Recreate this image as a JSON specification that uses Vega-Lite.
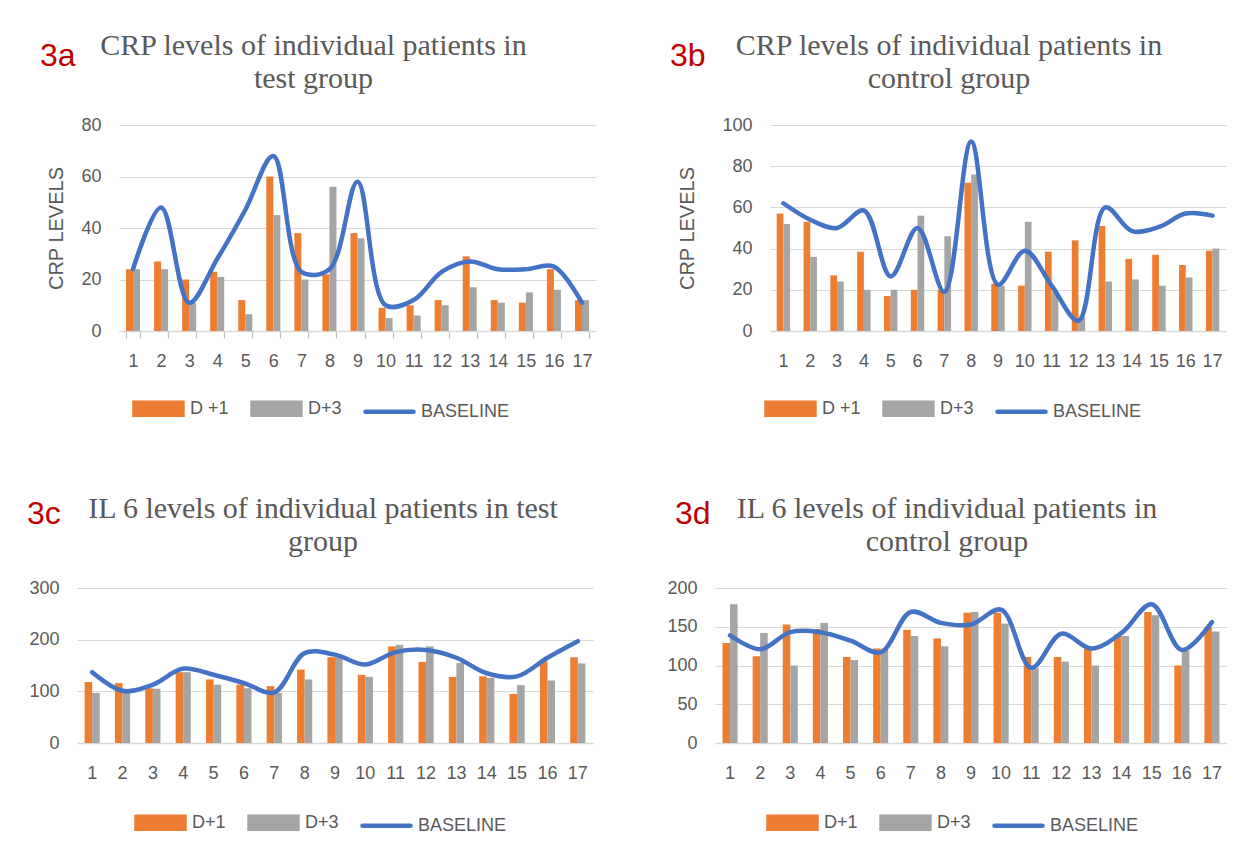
{
  "$schema": "https://vega.github.io/schema/vega-lite/v6.json",
  "background": "white",
  "padding": {"left": 26, "top": 31, "right": 0, "bottom": 0},
  "datasets": {
    "crp_test": [
      {"patient":1,"series":"D +1","value":24},{"patient":2,"series":"D +1","value":27},{"patient":3,"series":"D +1","value":20},{"patient":4,"series":"D +1","value":23},{"patient":5,"series":"D +1","value":12},{"patient":6,"series":"D +1","value":60},{"patient":7,"series":"D +1","value":38},{"patient":8,"series":"D +1","value":22},{"patient":9,"series":"D +1","value":38},{"patient":10,"series":"D +1","value":9},{"patient":11,"series":"D +1","value":10},{"patient":12,"series":"D +1","value":12},{"patient":13,"series":"D +1","value":29},{"patient":14,"series":"D +1","value":12},{"patient":15,"series":"D +1","value":11},{"patient":16,"series":"D +1","value":24},{"patient":17,"series":"D +1","value":12},
      {"patient":1,"series":"D+3","value":24},{"patient":2,"series":"D+3","value":24},{"patient":3,"series":"D+3","value":11},{"patient":4,"series":"D+3","value":21},{"patient":5,"series":"D+3","value":6.5},{"patient":6,"series":"D+3","value":45},{"patient":7,"series":"D+3","value":20},{"patient":8,"series":"D+3","value":56},{"patient":9,"series":"D+3","value":36},{"patient":10,"series":"D+3","value":5},{"patient":11,"series":"D+3","value":6},{"patient":12,"series":"D+3","value":10},{"patient":13,"series":"D+3","value":17},{"patient":14,"series":"D+3","value":11},{"patient":15,"series":"D+3","value":15},{"patient":16,"series":"D+3","value":16},{"patient":17,"series":"D+3","value":12},
      {"patient":1,"series":"BASELINE","value":24},{"patient":2,"series":"BASELINE","value":48},{"patient":3,"series":"BASELINE","value":11},{"patient":4,"series":"BASELINE","value":28},{"patient":5,"series":"BASELINE","value":47},{"patient":6,"series":"BASELINE","value":68},{"patient":7,"series":"BASELINE","value":23},{"patient":8,"series":"BASELINE","value":24},{"patient":9,"series":"BASELINE","value":58},{"patient":10,"series":"BASELINE","value":10},{"patient":11,"series":"BASELINE","value":12},{"patient":12,"series":"BASELINE","value":23},{"patient":13,"series":"BASELINE","value":27},{"patient":14,"series":"BASELINE","value":24},{"patient":15,"series":"BASELINE","value":24},{"patient":16,"series":"BASELINE","value":25},{"patient":17,"series":"BASELINE","value":11}
    ],
    "crp_control": [
      {"patient":1,"series":"D +1","value":57},{"patient":2,"series":"D +1","value":53},{"patient":3,"series":"D +1","value":27},{"patient":4,"series":"D +1","value":38.5},{"patient":5,"series":"D +1","value":17},{"patient":6,"series":"D +1","value":20},{"patient":7,"series":"D +1","value":20},{"patient":8,"series":"D +1","value":72},{"patient":9,"series":"D +1","value":23},{"patient":10,"series":"D +1","value":22},{"patient":11,"series":"D +1","value":38.5},{"patient":12,"series":"D +1","value":44},{"patient":13,"series":"D +1","value":51},{"patient":14,"series":"D +1","value":35},{"patient":15,"series":"D +1","value":37},{"patient":16,"series":"D +1","value":32},{"patient":17,"series":"D +1","value":39},
      {"patient":1,"series":"D+3","value":52},{"patient":2,"series":"D+3","value":36},{"patient":3,"series":"D+3","value":24},{"patient":4,"series":"D+3","value":20},{"patient":5,"series":"D+3","value":20},{"patient":6,"series":"D+3","value":56},{"patient":7,"series":"D+3","value":46},{"patient":8,"series":"D+3","value":76},{"patient":9,"series":"D+3","value":22},{"patient":10,"series":"D+3","value":53},{"patient":11,"series":"D+3","value":19},{"patient":12,"series":"D+3","value":7},{"patient":13,"series":"D+3","value":24},{"patient":14,"series":"D+3","value":25},{"patient":15,"series":"D+3","value":22},{"patient":16,"series":"D+3","value":26},{"patient":17,"series":"D+3","value":40},
      {"patient":1,"series":"BASELINE","value":62},{"patient":2,"series":"BASELINE","value":54},{"patient":3,"series":"BASELINE","value":50},{"patient":4,"series":"BASELINE","value":58.5},{"patient":5,"series":"BASELINE","value":26.5},{"patient":6,"series":"BASELINE","value":50},{"patient":7,"series":"BASELINE","value":19},{"patient":8,"series":"BASELINE","value":92},{"patient":9,"series":"BASELINE","value":22.5},{"patient":10,"series":"BASELINE","value":39},{"patient":11,"series":"BASELINE","value":22},{"patient":12,"series":"BASELINE","value":5},{"patient":13,"series":"BASELINE","value":60},{"patient":14,"series":"BASELINE","value":48.5},{"patient":15,"series":"BASELINE","value":50.5},{"patient":16,"series":"BASELINE","value":57},{"patient":17,"series":"BASELINE","value":56}
    ],
    "il6_test": [
      {"patient":1,"series":"D+1","value":118},{"patient":2,"series":"D+1","value":116},{"patient":3,"series":"D+1","value":106},{"patient":4,"series":"D+1","value":137},{"patient":5,"series":"D+1","value":123},{"patient":6,"series":"D+1","value":113},{"patient":7,"series":"D+1","value":110},{"patient":8,"series":"D+1","value":142},{"patient":9,"series":"D+1","value":166},{"patient":10,"series":"D+1","value":132},{"patient":11,"series":"D+1","value":187},{"patient":12,"series":"D+1","value":157},{"patient":13,"series":"D+1","value":128},{"patient":14,"series":"D+1","value":129},{"patient":15,"series":"D+1","value":95},{"patient":16,"series":"D+1","value":158},{"patient":17,"series":"D+1","value":166},
      {"patient":1,"series":"D+3","value":97},{"patient":2,"series":"D+3","value":97},{"patient":3,"series":"D+3","value":105},{"patient":4,"series":"D+3","value":137},{"patient":5,"series":"D+3","value":113},{"patient":6,"series":"D+3","value":106},{"patient":7,"series":"D+3","value":97},{"patient":8,"series":"D+3","value":123},{"patient":9,"series":"D+3","value":171},{"patient":10,"series":"D+3","value":128},{"patient":11,"series":"D+3","value":190},{"patient":12,"series":"D+3","value":187},{"patient":13,"series":"D+3","value":155},{"patient":14,"series":"D+3","value":126},{"patient":15,"series":"D+3","value":112},{"patient":16,"series":"D+3","value":121},{"patient":17,"series":"D+3","value":154},
      {"patient":1,"series":"BASELINE","value":137},{"patient":2,"series":"BASELINE","value":101},{"patient":3,"series":"BASELINE","value":113},{"patient":4,"series":"BASELINE","value":144},{"patient":5,"series":"BASELINE","value":132},{"patient":6,"series":"BASELINE","value":116},{"patient":7,"series":"BASELINE","value":98},{"patient":8,"series":"BASELINE","value":174},{"patient":9,"series":"BASELINE","value":171},{"patient":10,"series":"BASELINE","value":152},{"patient":11,"series":"BASELINE","value":176},{"patient":12,"series":"BASELINE","value":180},{"patient":13,"series":"BASELINE","value":165},{"patient":14,"series":"BASELINE","value":135},{"patient":15,"series":"BASELINE","value":129},{"patient":16,"series":"BASELINE","value":165},{"patient":17,"series":"BASELINE","value":197}
    ],
    "il6_control": [
      {"patient":1,"series":"D+1","value":129},{"patient":2,"series":"D+1","value":112},{"patient":3,"series":"D+1","value":153},{"patient":4,"series":"D+1","value":147},{"patient":5,"series":"D+1","value":111},{"patient":6,"series":"D+1","value":122},{"patient":7,"series":"D+1","value":146},{"patient":8,"series":"D+1","value":135},{"patient":9,"series":"D+1","value":168},{"patient":10,"series":"D+1","value":168},{"patient":11,"series":"D+1","value":111},{"patient":12,"series":"D+1","value":111},{"patient":13,"series":"D+1","value":122},{"patient":14,"series":"D+1","value":140},{"patient":15,"series":"D+1","value":169},{"patient":16,"series":"D+1","value":100},{"patient":17,"series":"D+1","value":150},
      {"patient":1,"series":"D+3","value":179},{"patient":2,"series":"D+3","value":142},{"patient":3,"series":"D+3","value":100},{"patient":4,"series":"D+3","value":155},{"patient":5,"series":"D+3","value":107},{"patient":6,"series":"D+3","value":121},{"patient":7,"series":"D+3","value":138},{"patient":8,"series":"D+3","value":125},{"patient":9,"series":"D+3","value":169},{"patient":10,"series":"D+3","value":154},{"patient":11,"series":"D+3","value":97},{"patient":12,"series":"D+3","value":105},{"patient":13,"series":"D+3","value":100},{"patient":14,"series":"D+3","value":138},{"patient":15,"series":"D+3","value":165},{"patient":16,"series":"D+3","value":119},{"patient":17,"series":"D+3","value":144},
      {"patient":1,"series":"BASELINE","value":139},{"patient":2,"series":"BASELINE","value":121},{"patient":3,"series":"BASELINE","value":143},{"patient":4,"series":"BASELINE","value":143},{"patient":5,"series":"BASELINE","value":132},{"patient":6,"series":"BASELINE","value":117},{"patient":7,"series":"BASELINE","value":169},{"patient":8,"series":"BASELINE","value":155},{"patient":9,"series":"BASELINE","value":153},{"patient":10,"series":"BASELINE","value":172},{"patient":11,"series":"BASELINE","value":97},{"patient":12,"series":"BASELINE","value":141},{"patient":13,"series":"BASELINE","value":122},{"patient":14,"series":"BASELINE","value":142},{"patient":15,"series":"BASELINE","value":179},{"patient":16,"series":"BASELINE","value":120},{"patient":17,"series":"BASELINE","value":156}
    ]
  },
  "concat": [
    {
      "hconcat": [
        {
          "title": {"text": "3a", "orient": "top", "anchor": "start", "frame": "bounds", "font": "Liberation Sans", "fontSize": 32, "fontWeight": "normal", "color": "#C00000", "offset": 0, "dx": -7, "dy": 42},
          "vconcat": [
            {
              "width": 477, "height": 206,
              "data": {"name": "crp_test"},
              "title": {"text": ["CRP levels of individual patients in", "test group"], "dx": -44},
              "encoding": {
                "x": {"field": "patient", "type": "ordinal", "title": null, "scale": {"paddingInner": 0.5, "paddingOuter": 0.25}, "axis": {"ticks": true, "tickBand": "extent", "tickSize": 7, "tickColor": "#BFBFBF", "tickWidth": 1.2, "labelPadding": 14}},
                "y": {"field": "value", "type": "quantitative", "scale": {"domain": [0, 80], "nice": false}, "axis": {"values": [0, 20, 40, 60, 80], "title": "CRP LEVELS", "titlePadding": 14}}
              },
              "layer": [
                {"transform": [{"filter": "datum.series !== 'BASELINE'"}], "mark": "bar",
                 "encoding": {"xOffset": {"field": "series", "type": "nominal", "scale": {"domain": ["D +1", "D+3"]}},
                   "color": {"field": "series", "type": "nominal", "scale": {"domain": ["D +1", "D+3", "BASELINE"], "range": ["#ED7D31", "#A5A5A5", "#4472C4"]},
                     "legend": {"orient": "none", "legendX": 13, "legendY": 257, "direction": "horizontal", "title": null,
                       "encode": {"symbols": {"update": {"shape": {"signal": "datum.value === 'BASELINE' ? 'M-1,0H1' : 'M-1,-0.25H1V0.25H-1Z'"}, "fill": {"signal": "datum.value === 'BASELINE' ? 'transparent' : (datum.value === 'D+3' ? '#A5A5A5' : '#ED7D31')"}, "stroke": {"signal": "datum.value === 'BASELINE' ? '#4472C4' : 'transparent'"}, "strokeWidth": {"value": 4.5}, "strokeCap": {"value": "round"}, "opacity": {"value": 1}}}}}}}},
                {"transform": [{"filter": "datum.series === 'BASELINE'"}], "mark": {"type": "line", "interpolate": "catmull-rom", "strokeWidth": 4.5, "strokeCap": "round"},
                 "encoding": {
                   "color": {"field": "series", "type": "nominal", "scale": {"domain": ["D +1", "D+3", "BASELINE"], "range": ["#ED7D31", "#A5A5A5", "#4472C4"]},
                     "legend": {"orient": "none", "legendX": 13, "legendY": 257, "direction": "horizontal", "title": null,
                       "encode": {"symbols": {"update": {"shape": {"signal": "datum.value === 'BASELINE' ? 'M-1,0H1' : 'M-1,-0.25H1V0.25H-1Z'"}, "fill": {"signal": "datum.value === 'BASELINE' ? 'transparent' : (datum.value === 'D+3' ? '#A5A5A5' : '#ED7D31')"}, "stroke": {"signal": "datum.value === 'BASELINE' ? '#4472C4' : 'transparent'"}, "strokeWidth": {"value": 4.5}, "strokeCap": {"value": "round"}, "opacity": {"value": 1}}}}}}}}
              ]
            }
          ],
          "resolve": {"scale": {"color": "independent", "xOffset": "independent"}, "legend": {"color": "independent"}}
        },
        {
          "title": {"text": "3b", "orient": "top", "anchor": "start", "frame": "bounds", "font": "Liberation Sans", "fontSize": 32, "fontWeight": "normal", "color": "#C00000", "offset": 0, "dx": -8, "dy": 42},
          "vconcat": [
            {
              "width": 456, "height": 206,
              "data": {"name": "crp_control"},
              "title": {"text": ["CRP levels of individual patients in", "control group"], "dx": -49},
              "encoding": {
                "x": {"field": "patient", "type": "ordinal", "title": null, "scale": {"paddingInner": 0.5, "paddingOuter": 0.25}},
                "y": {"field": "value", "type": "quantitative", "scale": {"domain": [0, 100], "nice": false}, "axis": {"values": [0, 20, 40, 60, 80, 100], "title": "CRP LEVELS", "titlePadding": 24}}
              },
              "layer": [
                {"transform": [{"filter": "datum.series !== 'BASELINE'"}], "mark": "bar",
                 "encoding": {"xOffset": {"field": "series", "type": "nominal", "scale": {"domain": ["D +1", "D+3"]}},
                   "color": {"field": "series", "type": "nominal", "scale": {"domain": ["D +1", "D+3", "BASELINE"], "range": ["#ED7D31", "#A5A5A5", "#4472C4"]},
                     "legend": {"orient": "none", "legendX": -6, "legendY": 257, "direction": "horizontal", "title": null,
                       "encode": {"symbols": {"update": {"shape": {"signal": "datum.value === 'BASELINE' ? 'M-1,0H1' : 'M-1,-0.25H1V0.25H-1Z'"}, "fill": {"signal": "datum.value === 'BASELINE' ? 'transparent' : (datum.value === 'D+3' ? '#A5A5A5' : '#ED7D31')"}, "stroke": {"signal": "datum.value === 'BASELINE' ? '#4472C4' : 'transparent'"}, "strokeWidth": {"value": 4.5}, "strokeCap": {"value": "round"}, "opacity": {"value": 1}}}}}}}},
                {"transform": [{"filter": "datum.series === 'BASELINE'"}], "mark": {"type": "line", "interpolate": "catmull-rom", "strokeWidth": 4.5, "strokeCap": "round"},
                 "encoding": {
                   "color": {"field": "series", "type": "nominal", "scale": {"domain": ["D +1", "D+3", "BASELINE"], "range": ["#ED7D31", "#A5A5A5", "#4472C4"]},
                     "legend": {"orient": "none", "legendX": -6, "legendY": 257, "direction": "horizontal", "title": null,
                       "encode": {"symbols": {"update": {"shape": {"signal": "datum.value === 'BASELINE' ? 'M-1,0H1' : 'M-1,-0.25H1V0.25H-1Z'"}, "fill": {"signal": "datum.value === 'BASELINE' ? 'transparent' : (datum.value === 'D+3' ? '#A5A5A5' : '#ED7D31')"}, "stroke": {"signal": "datum.value === 'BASELINE' ? '#4472C4' : 'transparent'"}, "strokeWidth": {"value": 4.5}, "strokeCap": {"value": "round"}, "opacity": {"value": 1}}}}}}}}
              ]
            }
          ],
          "resolve": {"scale": {"color": "independent", "xOffset": "independent"}, "legend": {"color": "independent"}}
        }
      ],
      "spacing": 73,
      "resolve": {"scale": {"color": "independent", "xOffset": "independent"}, "legend": {"color": "independent"}}
    },
    {
      "hconcat": [
        {
          "title": {"text": "3c", "orient": "top", "anchor": "start", "frame": "bounds", "font": "Liberation Sans", "fontSize": 32, "fontWeight": "normal", "color": "#C00000", "offset": 0, "dx": -2, "dy": 37},
          "vconcat": [
            {
              "width": 474, "height": 155,
              "data": {"name": "il6_test"},
              "title": {"text": ["IL 6 levels of individual patients in test", "group"], "dx": -33},
              "encoding": {
                "x": {"field": "patient", "type": "ordinal", "title": null, "scale": {"paddingInner": 0.5, "paddingOuter": 0.25, "range": [-42, 474]}},
                "y": {"field": "value", "type": "quantitative", "scale": {"domain": [0, 300], "nice": false}, "axis": {"values": [0, 100, 200, 300], "title": null, "offset": 42}}
              },
              "layer": [
                {"transform": [{"filter": "datum.series !== 'BASELINE'"}], "mark": "bar",
                 "encoding": {"xOffset": {"field": "series", "type": "nominal", "scale": {"domain": ["D+1", "D+3"]}},
                   "color": {"field": "series", "type": "nominal", "scale": {"domain": ["D+1", "D+3", "BASELINE"], "range": ["#ED7D31", "#A5A5A5", "#4472C4"]},
                     "legend": {"orient": "none", "legendX": 15, "legendY": 208, "direction": "horizontal", "title": null,
                       "encode": {"symbols": {"update": {"shape": {"signal": "datum.value === 'BASELINE' ? 'M-1,0H1' : 'M-1,-0.25H1V0.25H-1Z'"}, "fill": {"signal": "datum.value === 'BASELINE' ? 'transparent' : (datum.value === 'D+3' ? '#A5A5A5' : '#ED7D31')"}, "stroke": {"signal": "datum.value === 'BASELINE' ? '#4472C4' : 'transparent'"}, "strokeWidth": {"value": 4.5}, "strokeCap": {"value": "round"}, "opacity": {"value": 1}}}}}}}},
                {"transform": [{"filter": "datum.series === 'BASELINE'"}], "mark": {"type": "line", "interpolate": "catmull-rom", "strokeWidth": 4.5, "strokeCap": "round"},
                 "encoding": {
                   "color": {"field": "series", "type": "nominal", "scale": {"domain": ["D+1", "D+3", "BASELINE"], "range": ["#ED7D31", "#A5A5A5", "#4472C4"]},
                     "legend": {"orient": "none", "legendX": 15, "legendY": 208, "direction": "horizontal", "title": null,
                       "encode": {"symbols": {"update": {"shape": {"signal": "datum.value === 'BASELINE' ? 'M-1,0H1' : 'M-1,-0.25H1V0.25H-1Z'"}, "fill": {"signal": "datum.value === 'BASELINE' ? 'transparent' : (datum.value === 'D+3' ? '#A5A5A5' : '#ED7D31')"}, "stroke": {"signal": "datum.value === 'BASELINE' ? '#4472C4' : 'transparent'"}, "strokeWidth": {"value": 4.5}, "strokeCap": {"value": "round"}, "opacity": {"value": 1}}}}}}}}
              ]
            }
          ],
          "resolve": {"scale": {"color": "independent", "xOffset": "independent"}, "legend": {"color": "independent"}}
        },
        {
          "title": {"text": "3d", "orient": "top", "anchor": "start", "frame": "bounds", "font": "Liberation Sans", "fontSize": 32, "fontWeight": "normal", "color": "#C00000", "offset": 0, "dx": 8, "dy": 37},
          "vconcat": [
            {
              "width": 512, "height": 155,
              "data": {"name": "il6_control"},
              "title": {"text": ["IL 6 levels of individual patients in", "control group"], "dx": -24},
              "encoding": {
                "x": {"field": "patient", "type": "ordinal", "title": null, "scale": {"paddingInner": 0.5, "paddingOuter": 0.25}},
                "y": {"field": "value", "type": "quantitative", "scale": {"domain": [0, 200], "nice": false}, "axis": {"values": [0, 50, 100, 150, 200], "title": null}}
              },
              "layer": [
                {"transform": [{"filter": "datum.series !== 'BASELINE'"}], "mark": "bar",
                 "encoding": {"xOffset": {"field": "series", "type": "nominal", "scale": {"domain": ["D+1", "D+3"]}},
                   "color": {"field": "series", "type": "nominal", "scale": {"domain": ["D+1", "D+3", "BASELINE"], "range": ["#ED7D31", "#A5A5A5", "#4472C4"]},
                     "legend": {"orient": "none", "legendX": 51, "legendY": 208, "direction": "horizontal", "title": null,
                       "encode": {"symbols": {"update": {"shape": {"signal": "datum.value === 'BASELINE' ? 'M-1,0H1' : 'M-1,-0.25H1V0.25H-1Z'"}, "fill": {"signal": "datum.value === 'BASELINE' ? 'transparent' : (datum.value === 'D+3' ? '#A5A5A5' : '#ED7D31')"}, "stroke": {"signal": "datum.value === 'BASELINE' ? '#4472C4' : 'transparent'"}, "strokeWidth": {"value": 4.5}, "strokeCap": {"value": "round"}, "opacity": {"value": 1}}}}}}}},
                {"transform": [{"filter": "datum.series === 'BASELINE'"}], "mark": {"type": "line", "interpolate": "catmull-rom", "strokeWidth": 4.5, "strokeCap": "round"},
                 "encoding": {
                   "color": {"field": "series", "type": "nominal", "scale": {"domain": ["D+1", "D+3", "BASELINE"], "range": ["#ED7D31", "#A5A5A5", "#4472C4"]},
                     "legend": {"orient": "none", "legendX": 51, "legendY": 208, "direction": "horizontal", "title": null,
                       "encode": {"symbols": {"update": {"shape": {"signal": "datum.value === 'BASELINE' ? 'M-1,0H1' : 'M-1,-0.25H1V0.25H-1Z'"}, "fill": {"signal": "datum.value === 'BASELINE' ? 'transparent' : (datum.value === 'D+3' ? '#A5A5A5' : '#ED7D31')"}, "stroke": {"signal": "datum.value === 'BASELINE' ? '#4472C4' : 'transparent'"}, "strokeWidth": {"value": 4.5}, "strokeCap": {"value": "round"}, "opacity": {"value": 1}}}}}}}}
              ]
            }
          ],
          "resolve": {"scale": {"color": "independent", "xOffset": "independent"}, "legend": {"color": "independent"}}
        }
      ],
      "spacing": 31,
      "resolve": {"scale": {"color": "independent", "xOffset": "independent"}, "legend": {"color": "independent"}}
    }
  ],
  "columns": 1,
  "spacing": 70,
  "resolve": {"scale": {"color": "independent", "xOffset": "independent"}, "legend": {"color": "independent"}},
  "config": {
    "view": {"stroke": null},
    "font": "Liberation Sans",
    "axis": {"labelFont": "Liberation Sans", "labelColor": "#595959", "titleFont": "Liberation Sans", "titleColor": "#595959", "titleFontWeight": "normal"},
    "axisY": {"grid": true, "gridColor": "#D9D9D9", "gridWidth": 1.2, "domain": false, "ticks": false, "labelFontSize": 18, "labelPadding": 18, "titleFontSize": 20, "titlePadding": 18},
    "axisX": {"labelAngle": 0, "labelFontSize": 18, "domainColor": "#D9D9D9", "domainWidth": 1.5, "ticks": false, "grid": false, "labelPadding": 21},
    "title": {"font": "Liberation Serif", "fontSize": 30, "fontWeight": "normal", "color": "#595959", "lineHeight": 33, "frame": "group", "anchor": "middle", "offset": 22},
    "legend": {"symbolType": "M-1,-0.25H1V0.25H-1Z", "symbolSize": 2304, "labelFont": "Liberation Sans", "labelFontSize": 18, "labelColor": "#595959", "labelOffset": 5, "columnPadding": 14, "padding": 0}
  }
}
